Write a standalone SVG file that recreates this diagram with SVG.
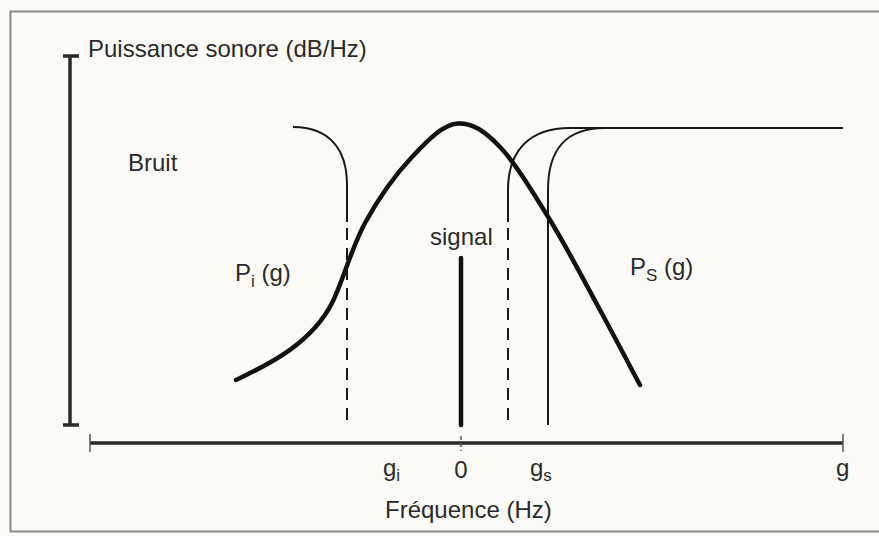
<svg xmlns="http://www.w3.org/2000/svg" width="879" height="536" viewBox="0 0 879 536">
<style>
.t{font-family:"Liberation Sans",Arial,sans-serif;font-size:24px;fill:#2a2a2a}
.sub{font-size:17px}
.thin{fill:none;stroke:#1a1a1a;stroke-width:2}
.dash{fill:none;stroke:#1a1a1a;stroke-width:2;stroke-dasharray:12 8}
.thick{fill:none;stroke:#111;stroke-width:4.5;stroke-linecap:round}
.axis{fill:none;stroke:#2a2a2a;stroke-width:3.5}
.tick{fill:none;stroke:#555;stroke-width:1.5}
</style>
<rect x="0" y="0" width="879" height="536" fill="#fdfbf7"/>
<path d="M879 11.5 H10.5 V531.5 H879" fill="none" stroke="#8a8a8a" stroke-width="2"/>
<g id="axes">
<path class="axis" d="M70 56 V425"/>
<path class="axis" d="M63 56 H79 M63 425 H79" stroke-width="2"/>
<path class="axis" d="M90 443 H843" stroke-width="4"/>
<path class="tick" d="M90 434 V452 M843 434 V452"/>
<path class="tick" d="M461 436 V451" stroke-dasharray="4 3"/>
</g>
<g id="curves">
<path class="thin" d="M293 127 C330 127 347 150 347 185 L347 222"/>
<path class="dash" d="M347 228 V425"/>
<path class="thin" d="M508 222 V190 C508 150 530 128 570 128 H843"/>
<path class="dash" d="M508 228 V425"/>
<path class="thin" d="M548 425 V190 C548 150 565 128 605 128"/>
<path class="thick" d="M236 380 C271 363.4 312 342.4 332 303 C342.5 282.3 351.7 247.3 365 223 C378.3 198.7 396.5 173.5 412 157 C427.5 140.5 443.3 124 458 123.5 C472.7 123 484.7 131 500 147 C515.3 163 533.3 192.8 550 220 C566.7 247.2 585 282.5 600 310 C615 337.5 633.3 372.5 640 385"/>
<path class="thick" d="M461 258 V425" stroke-linecap="butt" stroke-width="4"/>
</g>
<g id="labels">
<text class="t" x="88" y="57">Puissance sonore (dB/Hz)</text>
<text class="t" x="128" y="171">Bruit</text>
<text class="t" x="430" y="245">signal</text>
<text class="t" x="235" y="281">P<tspan class="sub" dy="6">i</tspan><tspan dy="-6"> (g)</tspan></text>
<text class="t" x="630" y="275">P<tspan class="sub" dy="6">S</tspan><tspan dy="-6"> (g)</tspan></text>
<text class="t" x="383" y="476">g<tspan class="sub" dy="5">i</tspan></text>
<text class="t" x="461" y="478" text-anchor="middle">0</text>
<text class="t" x="530" y="476">g<tspan class="sub" dy="5">s</tspan></text>
<text class="t" x="836" y="476">g</text>
<text class="t" x="385" y="518">Fréquence (Hz)</text>
</g>
</svg>
